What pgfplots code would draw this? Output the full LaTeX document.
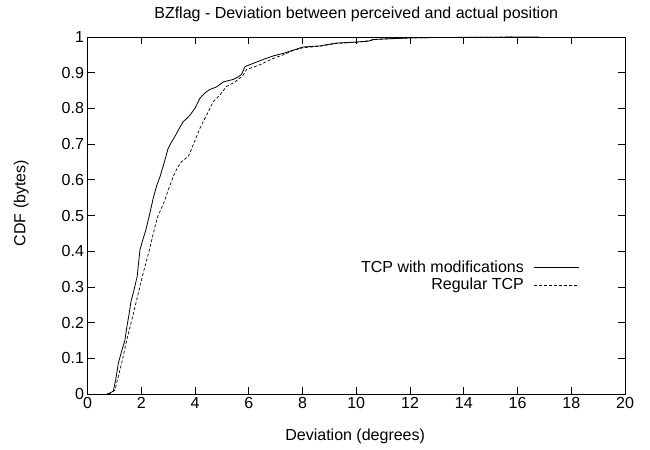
\documentclass[border=0pt]{standalone}
\usepackage{fontspec}
\setmainfont{Liberation Sans}
\usepackage{pgfplots}
\pgfplotsset{compat=1.18}

\begin{document}
\begin{tikzpicture}
  \path[use as bounding box] (-87.5bp,-56bp) rectangle (562.5bp,394bp);
  \begin{axis}[
      at={(0,0)}, anchor=south west,
      scale only axis, width=537.5bp, height=357bp,
      xmin=0, xmax=20, ymin=0, ymax=1,
      xtick={0,2,...,20},
      ytick={0,0.1,...,1},
      yticklabel style={/pgf/number format/fixed, /pgf/number format/precision=1},
      /pgf/number format/assume math mode=true,
      tick align=inside, major tick length=7bp,
      tick style={black, line width=0.6bp},
      axis line style={line width=0.8bp},
      tick label style={font=\fontsize{16bp}{18bp}\selectfont},
      label style={font=\fontsize{16bp}{18bp}\selectfont},
      title style={font=\fontsize{16bp}{18bp}\selectfont,
        at={(axis description cs:0.5,1.048)}, anchor=center},
      xlabel style={at={(axis description cs:0.498,-0.12)}, anchor=center},
      ylabel style={at={(axis description cs:-0.1235,0.535)}, anchor=center},
      title={BZflag - Deviation between perceived and actual position},
      xlabel={Deviation (degrees)},
      ylabel={CDF (bytes)},
      legend plot pos=right,
      legend cell align=right,
      legend style={draw=none, fill=none, at={(0.916,0.378)}, anchor=north east,
        font=\fontsize{16bp}{18bp}\selectfont, row sep=0bp,
        inner sep=0pt},
      legend image code/.code={\path (0bp,0bp); \draw[#1] (8bp,0bp) -- (53bp,0bp);},
    ]
    \addplot[black, line width=0.8bp] coordinates {
      (0.72,0) (0.81,0.002) (0.96,0.008) (1.05,0.04) (1.15,0.087) (1.27,0.12)
      (1.39,0.15) (1.47,0.19) (1.55,0.225) (1.62,0.26) (1.73,0.291) (1.85,0.33)
      (1.95,0.403) (2.05,0.43) (2.17,0.459) (2.32,0.506) (2.45,0.55)
      (2.58,0.585) (2.70,0.609) (2.80,0.635) (2.88,0.655) (3.0,0.688)
      (3.12,0.705) (3.25,0.721) (3.4,0.742) (3.56,0.763) (3.7,0.772)
      (3.81,0.781) (4.0,0.8) (4.18,0.828) (4.35,0.842) (4.55,0.853)
      (4.8,0.86) (5.05,0.874) (5.25,0.878) (5.42,0.881) (5.6,0.888)
      (5.73,0.895) (5.86,0.917) (6.16,0.926) (6.54,0.937) (6.91,0.947)
      (7.28,0.954) (7.65,0.963) (8.02,0.972) (8.64,0.975) (9.26,0.983)
      (10.0,0.986) (10.44,0.988) (10.62,0.993) (11.25,0.995) (12.1,0.998)
      (14,0.999) (16.8,1.0)
    };
    \addlegendentry{TCP with modifications}
    \addplot[black, line width=0.7bp, dash pattern=on 3bp off 2bp] coordinates {
      (0.78,0) (0.84,0.002) (1.02,0.011) (1.15,0.05) (1.27,0.086)
      (1.46,0.151) (1.68,0.217) (1.89,0.282) (2.07,0.338) (2.30,0.403)
      (2.51,0.469) (2.63,0.501) (2.75,0.52) (2.88,0.543) (3.0,0.571)
      (3.19,0.609) (3.35,0.635) (3.50,0.651) (3.75,0.665) (3.93,0.697)
      (4.18,0.744) (4.43,0.781) (4.68,0.819) (4.93,0.838) (5.17,0.861)
      (5.48,0.874) (5.67,0.885) (5.79,0.893) (5.92,0.909) (6.41,0.922)
      (6.91,0.94) (7.28,0.95) (7.65,0.962) (8.02,0.97) (8.64,0.974)
      (9.26,0.982) (10.0,0.985) (10.5,0.99) (10.8,0.994) (11.5,0.996)
      (12.5,0.998) (15.8,1.0)
    };
    \addlegendentry{Regular TCP}
  \end{axis}
\end{tikzpicture}
\end{document}
